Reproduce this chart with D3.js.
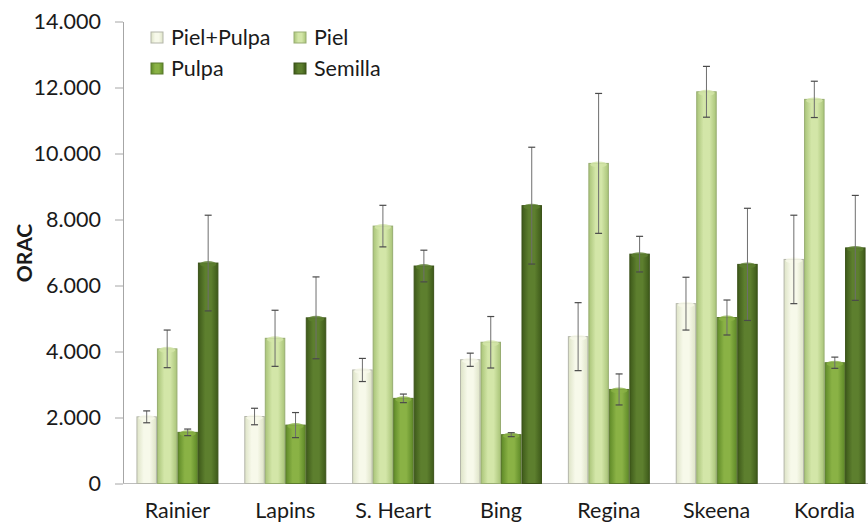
<!DOCTYPE html>
<html>
<head>
<meta charset="utf-8">
<script src="https://cdn.jsdelivr.net/npm/d3@7"></script>
<style>
  body { margin: 0; background: #fff; }
  svg { display: block; font-family: Lato, "Open Sans", sans-serif; }
</style>
</head>
<body>
<div class="chart"></div>
<script>
// data
let cultivars = ['Rainier', 'Lapins', 'S. Heart', 'Bing', 'Regina', 'Skeena', 'Kordia'];
let seriesNames = ['Piel+Pulpa', 'Piel', 'Pulpa', 'Semilla'];

let pielPulpa    = [2020, 2030, 3440, 3750, 4450, 5450, 6790];
let pielPulpaErr = [180, 250, 350, 200, 1030, 800, 1340];
let piel         = [4080, 4400, 7800, 4280, 9700, 11870, 11640];
let pielErr      = [570, 850, 630, 780, 2120, 770, 550];
let pulpa        = [1550, 1770, 2580, 1480, 2850, 5030, 3660];
let pulpaErr     = [100, 380, 130, 60, 470, 530, 170];
let semilla      = [6680, 5020, 6590, 8420, 6950, 6640, 7140];
let semillaErr   = [1450, 1240, 480, 1770, 540, 1700, 1590];

let yTicks = [0, 2000, 4000, 6000, 8000, 10000, 12000, 14000];

let values = [pielPulpa, piel, pulpa, semilla];
let errors = [pielPulpaErr, pielErr, pulpaErr, semillaErr];

// colours: [edge, centre, border]
let colors = [
	['#dde3c6', '#f7f9ea', '#b4b6aa'],
	['#a9c478', '#d3e6a8', '#98ad72'],
	['#5f8a28', '#8ab245', '#5a7a2c'],
	['#3e5a1a', '#5d7f2e', '#3b5219']
];

let W = 868, H = 527;
let fontSize = '21.5px';

let svg = d3.select('.chart')
	.append('svg')
	.attr('width', W)
	.attr('height', H);

let defs = svg.append('defs');
colors.forEach(function(c, i) {
	let g = defs.append('linearGradient')
		.attr('id', 'grad' + i)
		.attr('x1', '0%').attr('x2', '100%')
		.attr('y1', '0%').attr('y2', '0%');
	g.append('stop').attr('offset', '0%').attr('stop-color', c[0]);
	g.append('stop').attr('offset', '35%').attr('stop-color', c[1]);
	g.append('stop').attr('offset', '65%').attr('stop-color', c[1]);
	g.append('stop').attr('offset', '100%').attr('stop-color', c[0]);
});

let x0 = d3.scaleBand()
	.domain(cultivars)
	.range([123.5, 878.5])
	.paddingInner(0.24)
	.paddingOuter(0.12);

let x1 = d3.scaleBand()
	.domain(d3.range(seriesNames.length))
	.range([0, x0.bandwidth()]);

let y = d3.scaleLinear()
	.domain([0, 14000])
	.range([483.5, 21.5]);

// y axis
let yAxis = d3.axisLeft(y)
	.tickValues(yTicks)
	.tickFormat(function(d) { return d === 0 ? '0' : d3.format(',')(d).replace(/,/g, '.'); })
	.tickSizeInner(8)
	.tickSizeOuter(0)
	.tickPadding(14);

let yg = svg.append('g')
	.attr('transform', 'translate(123, 0)')
	.call(yAxis);
yg.select('.domain').attr('stroke', '#a6a6a6');
yg.selectAll('.tick line').attr('stroke', '#a6a6a6');
yg.selectAll('.tick text')
	.attr('fill', '#1a1a1a')
	.style('font-size', fontSize)
	.style('font-family', 'Lato, sans-serif');

// baseline
svg.append('line')
	.attr('x1', 123).attr('x2', W)
	.attr('y1', y(0)).attr('y2', y(0))
	.attr('stroke', '#bdbdbd');

// category labels
svg.append('g')
	.selectAll('text')
	.data(cultivars)
	.enter()
	.append('text')
	.attr('x', d => x0(d) + x0.bandwidth() / 2)
	.attr('y', 518)
	.attr('text-anchor', 'middle')
	.style('font-size', fontSize)
	.attr('fill', '#1a1a1a')
	.text(d => d);

// axis title
svg.append('text')
	.attr('transform', 'translate(32, 253) rotate(-90)')
	.attr('text-anchor', 'middle')
	.style('font-size', '21px')
	.style('font-weight', 'bold')
	.attr('fill', '#1a1a1a')
	.text('ORAC');

// bars
let groups = svg.append('g')
	.selectAll('g')
	.data(cultivars)
	.enter()
	.append('g')
	.attr('transform', d => 'translate(' + x0(d) + ', 0)');

let barData = function(d, ci) {
	return seriesNames.map(function(s, si) {
		return {si: si, v: values[si][ci], e: errors[si][ci]};
	});
};

groups.each(function(c, ci) {
	let g = d3.select(this);
	let data = barData(c, ci);
	let bw = x1.bandwidth();

	g.selectAll('rect.bar')
		.data(data)
		.enter()
		.append('rect')
		.attr('class', 'bar')
		.attr('x', d => x1(d.si) + 0.5)
		.attr('y', d => y(d.v))
		.attr('width', bw - 1)
		.attr('height', d => y(0) - y(d.v))
		.attr('fill', d => 'url(#grad' + d.si + ')')
		.attr('stroke', d => colors[d.si][2])
		.attr('stroke-width', 1);

	// light cap on top of each bar
	g.selectAll('ellipse')
		.data(data)
		.enter()
		.append('ellipse')
		.attr('cx', d => x1(d.si) + bw / 2)
		.attr('cy', d => y(d.v) + 1)
		.attr('rx', bw / 2 - 2)
		.attr('ry', 3)
		.attr('fill', d => colors[d.si][1])
		.attr('opacity', 0.8);

	// error bars
	let eb = g.selectAll('g.err')
		.data(data)
		.enter()
		.append('g')
		.attr('class', 'err');
	eb.append('line')
		.attr('x1', d => x1(d.si) + bw / 2)
		.attr('x2', d => x1(d.si) + bw / 2)
		.attr('y1', d => y(d.v + d.e))
		.attr('y2', d => y(d.v - d.e))
		.attr('stroke', '#6e6e6e')
		.attr('stroke-width', 1);
	[1, -1].forEach(function(sgn) {
		eb.append('line')
			.attr('x1', d => x1(d.si) + bw / 2 - 3.5)
			.attr('x2', d => x1(d.si) + bw / 2 + 3.5)
			.attr('y1', d => y(d.v + sgn * d.e))
			.attr('y2', d => y(d.v + sgn * d.e))
			.attr('stroke', '#4a4a4a')
			.attr('stroke-width', 1.2);
	});
});

// legend
let legendPos = [[151, 38], [294, 38], [151, 69], [294, 69]];
let legend = svg.append('g')
	.selectAll('g')
	.data(seriesNames)
	.enter()
	.append('g')
	.attr('transform', (d, i) => 'translate(' + legendPos[i][0] + ', ' + legendPos[i][1] + ')');

legend.append('rect')
	.attr('x', 0)
	.attr('y', -6)
	.attr('width', 12)
	.attr('height', 11)
	.attr('fill', (d, i) => 'url(#grad' + i + ')')
	.attr('stroke', (d, i) => colors[i][2]);

legend.append('text')
	.attr('x', 20)
	.attr('y', 7)
	.style('font-size', fontSize)
	.attr('fill', '#1a1a1a')
	.text(d => d);
</script>
</body>
</html>
